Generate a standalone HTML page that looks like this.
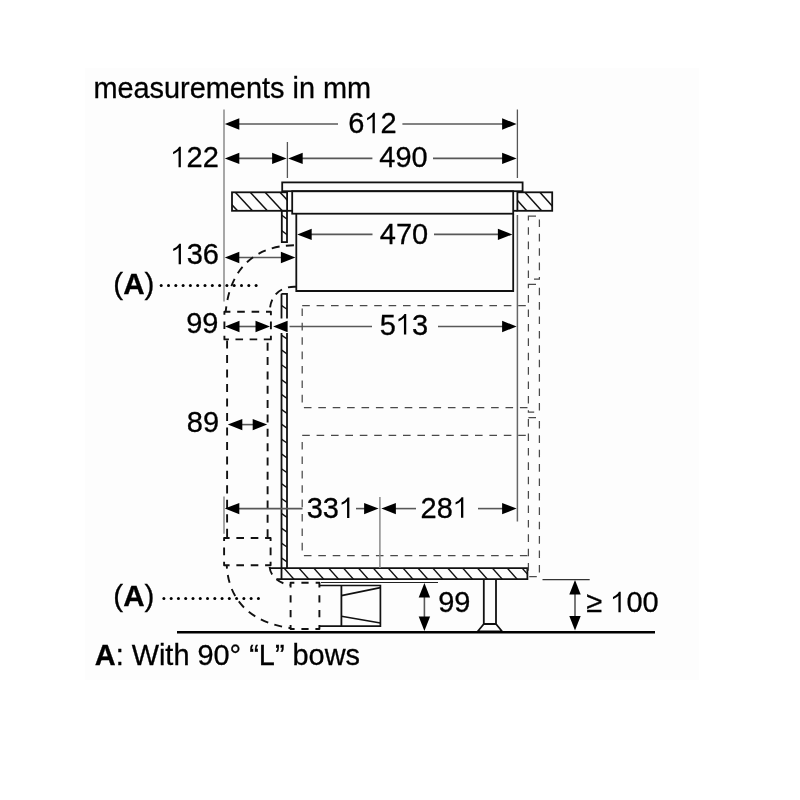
<!DOCTYPE html><html><head><meta charset="utf-8"><style>html,body{margin:0;padding:0;background:#fff;}svg{display:block;will-change:transform;} text{font-family:"Liberation Sans",sans-serif;fill:#000;stroke:#000;stroke-width:0.3px;}</style></head><body>
<svg width="800" height="800" viewBox="0 0 800 800">
<rect x="0" y="0" width="800" height="800" fill="#fff"/>
<rect x="85" y="68" width="614" height="612" fill="#fdfdfd"/>
<text x="93.40" y="97.80" font-size="28.90" text-anchor="start" font-weight="normal">measurements in mm</text>
<line x1="224.00" y1="109.50" x2="224.00" y2="301.50" stroke="#8a8a8a" stroke-width="1.50" />
<line x1="517.40" y1="109.50" x2="517.40" y2="178.00" stroke="#555" stroke-width="1.30" />
<line x1="287.40" y1="142.00" x2="287.40" y2="178.00" stroke="#555" stroke-width="1.30" />
<line x1="517.40" y1="215.00" x2="517.40" y2="521.50" stroke="#666" stroke-width="1.50" />
<line x1="238.00" y1="124.00" x2="338.00" y2="124.00" stroke="#585858" stroke-width="1.60" />
<line x1="402.40" y1="124.00" x2="503.00" y2="124.00" stroke="#585858" stroke-width="1.60" />
<polygon points="224.80,124.00 239.30,118.30 239.30,129.70" fill="#000"/>
<polygon points="516.60,124.00 502.10,118.30 502.10,129.70" fill="#000"/>
<text x="348.25" y="133.30" font-size="29.00">6 2</text>
<polygon points="372.53,133.30 374.83,133.30 374.83,112.80 373.08,112.80 371.98,114.40 369.98,116.30 367.08,117.90 367.08,120.20 369.78,118.80 371.48,117.60 372.53,116.70" fill="#000"/>
<line x1="238.00" y1="158.40" x2="273.00" y2="158.40" stroke="#585858" stroke-width="1.60" />
<polygon points="224.80,158.40 239.30,152.70 239.30,164.10" fill="#000"/>
<polygon points="286.60,158.40 272.10,152.70 272.10,164.10" fill="#000"/>
<text x="170.40" y="167.30" font-size="29.00"> 22</text>
<polygon points="178.55,167.30 180.85,167.30 180.85,146.80 179.10,146.80 178.00,148.40 176.00,150.30 173.10,151.90 173.10,154.20 175.80,152.80 177.50,151.60 178.55,150.70" fill="#000"/>
<line x1="302.00" y1="158.40" x2="372.40" y2="158.40" stroke="#585858" stroke-width="1.60" />
<line x1="433.00" y1="158.40" x2="503.00" y2="158.40" stroke="#585858" stroke-width="1.60" />
<polygon points="288.20,158.40 302.70,152.70 302.70,164.10" fill="#000"/>
<polygon points="516.60,158.40 502.10,152.70 502.10,164.10" fill="#000"/>
<text x="379.25" y="167.00" font-size="29.00">490</text>
<clipPath id="h1"><rect x="232.00" y="192.30" width="55.10" height="18.50"/></clipPath>
<g clip-path="url(#h1)" stroke="#111" stroke-width="1.50">
<line x1="188.79" y1="190.30" x2="209.63" y2="212.80"/>
<line x1="203.69" y1="190.30" x2="224.53" y2="212.80"/>
<line x1="218.59" y1="190.30" x2="239.43" y2="212.80"/>
<line x1="233.49" y1="190.30" x2="254.33" y2="212.80"/>
<line x1="248.39" y1="190.30" x2="269.23" y2="212.80"/>
<line x1="263.29" y1="190.30" x2="284.13" y2="212.80"/>
<line x1="278.19" y1="190.30" x2="299.03" y2="212.80"/>
<line x1="293.09" y1="190.30" x2="313.93" y2="212.80"/>
<line x1="307.99" y1="190.30" x2="328.83" y2="212.80"/>
</g>
<rect x="232.00" y="192.30" width="55.10" height="18.50" fill="none" stroke="#111" stroke-width="1.80" />
<clipPath id="h2"><rect x="517.40" y="192.30" width="34.80" height="18.50"/></clipPath>
<g clip-path="url(#h2)" stroke="#111" stroke-width="1.50">
<line x1="478.50" y1="190.30" x2="498.77" y2="212.80"/>
<line x1="493.40" y1="190.30" x2="513.67" y2="212.80"/>
<line x1="508.30" y1="190.30" x2="528.57" y2="212.80"/>
<line x1="523.20" y1="190.30" x2="543.47" y2="212.80"/>
<line x1="538.10" y1="190.30" x2="558.37" y2="212.80"/>
<line x1="553.00" y1="190.30" x2="573.27" y2="212.80"/>
<line x1="567.90" y1="190.30" x2="588.17" y2="212.80"/>
</g>
<rect x="517.40" y="192.30" width="34.80" height="18.50" fill="none" stroke="#111" stroke-width="1.80" />
<line x1="513.20" y1="210.80" x2="517.40" y2="210.80" stroke="#111" stroke-width="1.80" />
<rect x="282.20" y="182.40" width="240.40" height="8.80" fill="none" stroke="#111" stroke-width="1.80" />
<line x1="287.00" y1="210.80" x2="292.20" y2="210.80" stroke="#111" stroke-width="1.80" />
<rect x="292.20" y="191.20" width="221.00" height="22.50" fill="none" stroke="#111" stroke-width="1.80" />
<path d="M296.3,213.7 V291 H513.2 V213.7" fill="none" stroke="#111" stroke-width="1.80"/>
<clipPath id="h3"><rect x="281.80" y="210.80" width="5.20" height="31.30"/></clipPath>
<g clip-path="url(#h3)" stroke="#111" stroke-width="1.40">
<line x1="211.23" y1="208.80" x2="258.30" y2="244.10"/>
<line x1="231.90" y1="208.80" x2="278.97" y2="244.10"/>
<line x1="252.57" y1="208.80" x2="299.63" y2="244.10"/>
<line x1="273.23" y1="208.80" x2="320.30" y2="244.10"/>
<line x1="293.90" y1="208.80" x2="340.97" y2="244.10"/>
<line x1="314.57" y1="208.80" x2="361.63" y2="244.10"/>
</g>
<rect x="281.80" y="210.80" width="5.20" height="31.30" fill="none" stroke="#111" stroke-width="1.80" />
<line x1="310.00" y1="234.40" x2="372.50" y2="234.40" stroke="#585858" stroke-width="1.60" />
<line x1="434.00" y1="234.40" x2="498.00" y2="234.40" stroke="#585858" stroke-width="1.60" />
<polygon points="297.20,234.40 311.70,228.70 311.70,240.10" fill="#000"/>
<polygon points="512.40,234.40 497.90,228.70 497.90,240.10" fill="#000"/>
<text x="379.75" y="243.70" font-size="29.00">470</text>
<line x1="238.00" y1="257.50" x2="282.00" y2="257.50" stroke="#585858" stroke-width="1.60" />
<polygon points="224.80,257.50 239.30,251.80 239.30,263.20" fill="#000"/>
<polygon points="295.40,257.50 280.90,251.80 280.90,263.20" fill="#000"/>
<text x="170.50" y="264.20" font-size="29.00"> 36</text>
<polygon points="178.65,264.20 180.95,264.20 180.95,243.70 179.20,243.70 178.10,245.30 176.10,247.20 173.20,248.80 173.20,251.10 175.90,249.70 177.60,248.50 178.65,247.60" fill="#000"/>
<text x="113.3" y="293.6" font-size="29.6">(<tspan font-weight="bold">A</tspan>)</text>
<circle cx="161.20" cy="285.50" r="1.50" fill="#000"/>
<circle cx="168.50" cy="285.50" r="1.50" fill="#000"/>
<circle cx="175.80" cy="285.50" r="1.50" fill="#000"/>
<circle cx="183.10" cy="285.50" r="1.50" fill="#000"/>
<circle cx="190.40" cy="285.50" r="1.50" fill="#000"/>
<circle cx="197.70" cy="285.50" r="1.50" fill="#000"/>
<circle cx="205.00" cy="285.50" r="1.50" fill="#000"/>
<circle cx="212.30" cy="285.50" r="1.50" fill="#000"/>
<circle cx="219.60" cy="285.50" r="1.50" fill="#000"/>
<circle cx="226.90" cy="285.50" r="1.50" fill="#000"/>
<circle cx="234.20" cy="285.50" r="1.50" fill="#000"/>
<circle cx="241.50" cy="285.50" r="1.50" fill="#000"/>
<circle cx="248.80" cy="285.50" r="1.50" fill="#000"/>
<circle cx="256.10" cy="285.50" r="1.50" fill="#000"/>
<path d="M296,245.3 C255.9,244.8 229.9,268 225.8,311" stroke="#111" stroke-width="1.9" stroke-dashoffset="-2" stroke-dasharray="8,6.4" fill="none"/>
<path d="M296,286.8 C280,286 270,296 269.8,311.5" stroke="#111" stroke-width="1.9" stroke-dasharray="8,6.4" fill="none"/>
<path d="M224.40,314.75 V311.75 H230.40 M266.00,311.75 H270.90 V315.15 M270.90,335.65 V339.40 H263.80 M228.90,339.40 H224.40 V335.65 M237.20,311.75 H244.80 M251.60,311.75 H259.20 M270.90,321.60 V329.20 M235.47,339.40 H243.07 M249.63,339.40 H257.23 M224.40,321.40 V329.00" stroke="#111" stroke-width="1.90" fill="none" stroke-linejoin="round"/>
<path d="M227.10,340.50 L227.10,348.60 M227.10,354.98 L227.10,363.08 M227.10,369.47 L227.10,377.57 M227.10,383.95 L227.10,392.05 M227.10,398.44 L227.10,406.54 M227.10,412.92 L227.10,421.02 M227.10,427.41 L227.10,435.51 M227.10,441.89 L227.10,449.99 M227.10,456.38 L227.10,464.48 M227.10,470.86 L227.10,478.96 M227.10,485.35 L227.10,493.45 M227.10,499.83 L227.10,507.93 M227.10,514.32 L227.10,522.42 M227.10,528.80 L227.10,536.90" stroke="#111" stroke-width="1.90" fill="none"/>
<path d="M267.60,342.75 L267.60,350.75 M267.60,357.09 L267.60,365.09 M267.60,371.43 L267.60,379.43 M267.60,385.78 L267.60,393.78 M267.60,400.12 L267.60,408.12 M267.60,414.46 L267.60,422.46 M267.60,428.80 L267.60,436.80 M267.60,443.15 L267.60,451.15 M267.60,457.49 L267.60,465.49 M267.60,471.83 L267.60,479.83 M267.60,486.17 L267.60,494.17 M267.60,500.52 L267.60,508.52 M267.60,514.86 L267.60,522.86 M267.60,529.20 L267.60,537.20" stroke="#111" stroke-width="1.90" fill="none"/>
<path d="M224.10,541.05 V538.05 H229.60 M265.10,538.05 H270.60 V541.05 M270.60,561.80 V565.30 H265.10 M229.60,565.30 H224.10 V561.80 M236.37,538.05 H243.97 M250.73,538.05 H258.33 M270.60,547.62 V555.23 M236.37,565.30 H243.97 M250.73,565.30 H258.33 M224.10,547.62 V555.23" stroke="#111" stroke-width="1.90" fill="none" stroke-linejoin="round"/>
<path d="M226.8,566 C229.45,612.4 267.1,625.4 291,628" stroke="#111" stroke-width="1.9" stroke-dashoffset="-9" stroke-dasharray="8,6.4" fill="none"/>
<path d="M269.6,567 C270.5,577 280,584 291,585" stroke="#111" stroke-width="1.9" stroke-dasharray="8,6.4" fill="none"/>
<path d="M290.60,587.50 V582.75 H294.35 M315.65,582.75 H319.40 V587.50 M319.40,625.00 V629.00 H315.40 M294.60,629.00 H290.60 V625.00 M301.40,582.75 H308.60 M319.40,595.20 V602.40 M319.40,610.10 V617.30 M301.40,629.00 H308.60 M290.60,595.20 V602.40 M290.60,610.10 V617.30" stroke="#111" stroke-width="1.90" fill="none" stroke-linejoin="round"/>
<line x1="239.00" y1="326.50" x2="256.00" y2="326.50" stroke="#585858" stroke-width="1.60" />
<polygon points="225.00,326.50 239.50,320.80 239.50,332.20" fill="#000"/>
<polygon points="270.00,326.50 255.50,320.80 255.50,332.20" fill="#000"/>
<text x="186.20" y="332.90" font-size="29.00">99</text>
<clipPath id="h4"><rect x="281.50" y="293.80" width="5.50" height="274.30"/></clipPath>
<g clip-path="url(#h4)" stroke="#111" stroke-width="1.40">
<line x1="-141.27" y1="291.80" x2="256.30" y2="570.10"/>
<line x1="-120.04" y1="291.80" x2="277.53" y2="570.10"/>
<line x1="-98.81" y1="291.80" x2="298.76" y2="570.10"/>
<line x1="-77.59" y1="291.80" x2="319.99" y2="570.10"/>
<line x1="-56.36" y1="291.80" x2="341.21" y2="570.10"/>
<line x1="-35.13" y1="291.80" x2="362.44" y2="570.10"/>
<line x1="-13.90" y1="291.80" x2="383.67" y2="570.10"/>
<line x1="7.33" y1="291.80" x2="404.90" y2="570.10"/>
<line x1="28.56" y1="291.80" x2="426.13" y2="570.10"/>
<line x1="49.79" y1="291.80" x2="447.36" y2="570.10"/>
<line x1="71.01" y1="291.80" x2="468.59" y2="570.10"/>
<line x1="92.24" y1="291.80" x2="489.81" y2="570.10"/>
<line x1="113.47" y1="291.80" x2="511.04" y2="570.10"/>
<line x1="134.70" y1="291.80" x2="532.27" y2="570.10"/>
<line x1="155.93" y1="291.80" x2="553.50" y2="570.10"/>
<line x1="177.16" y1="291.80" x2="574.73" y2="570.10"/>
<line x1="198.39" y1="291.80" x2="595.96" y2="570.10"/>
<line x1="219.61" y1="291.80" x2="617.19" y2="570.10"/>
<line x1="240.84" y1="291.80" x2="638.41" y2="570.10"/>
<line x1="262.07" y1="291.80" x2="659.64" y2="570.10"/>
<line x1="283.30" y1="291.80" x2="680.87" y2="570.10"/>
<line x1="304.53" y1="291.80" x2="702.10" y2="570.10"/>
<line x1="325.76" y1="291.80" x2="723.33" y2="570.10"/>
</g>
<path d="M281.5,293.8 H287 V568.1 M281.5,293.8 V579.1" fill="none" stroke="#111" stroke-width="1.80"/>
<clipPath id="h5"><rect x="281.50" y="568.10" width="245.90" height="11.00"/></clipPath>
<g clip-path="url(#h5)" stroke="#111" stroke-width="1.40">
<line x1="252.49" y1="566.10" x2="265.88" y2="581.10"/>
<line x1="267.37" y1="566.10" x2="280.76" y2="581.10"/>
<line x1="282.25" y1="566.10" x2="295.64" y2="581.10"/>
<line x1="297.13" y1="566.10" x2="310.52" y2="581.10"/>
<line x1="312.01" y1="566.10" x2="325.40" y2="581.10"/>
<line x1="326.89" y1="566.10" x2="340.28" y2="581.10"/>
<line x1="341.77" y1="566.10" x2="355.16" y2="581.10"/>
<line x1="356.65" y1="566.10" x2="370.04" y2="581.10"/>
<line x1="371.53" y1="566.10" x2="384.92" y2="581.10"/>
<line x1="386.41" y1="566.10" x2="399.80" y2="581.10"/>
<line x1="401.29" y1="566.10" x2="414.68" y2="581.10"/>
<line x1="416.17" y1="566.10" x2="429.56" y2="581.10"/>
<line x1="431.05" y1="566.10" x2="444.44" y2="581.10"/>
<line x1="445.93" y1="566.10" x2="459.32" y2="581.10"/>
<line x1="460.81" y1="566.10" x2="474.20" y2="581.10"/>
<line x1="475.69" y1="566.10" x2="489.08" y2="581.10"/>
<line x1="490.57" y1="566.10" x2="503.96" y2="581.10"/>
<line x1="505.45" y1="566.10" x2="518.84" y2="581.10"/>
<line x1="520.33" y1="566.10" x2="533.72" y2="581.10"/>
<line x1="535.21" y1="566.10" x2="548.60" y2="581.10"/>
<line x1="550.09" y1="566.10" x2="563.48" y2="581.10"/>
</g>
<path d="M269,568.1 H527.4 V579.1 H276.5" fill="none" stroke="#111" stroke-width="1.80"/>
<line x1="287.00" y1="326.50" x2="372.00" y2="326.50" stroke="#585858" stroke-width="1.60" />
<line x1="438.00" y1="326.50" x2="503.00" y2="326.50" stroke="#585858" stroke-width="1.60" />
<rect x="279.5" y="318.5" width="10" height="14.5" fill="#fdfdfd"/>
<polygon points="273.10,326.50 287.60,320.80 287.60,332.20" fill="#000"/>
<polygon points="516.60,326.50 502.10,320.80 502.10,332.20" fill="#000"/>
<text x="379.65" y="334.50" font-size="29.00">5 3</text>
<polygon points="403.93,334.50 406.23,334.50 406.23,314.00 404.48,314.00 403.38,315.60 401.38,317.50 398.48,319.10 398.48,321.40 401.18,320.00 402.88,318.80 403.93,317.90" fill="#000"/>
<path d="M302.2,305.5 H527.5 M527.5,407.5 H302.2 V305.5" stroke="#4a4a4a" stroke-width="1.25" fill="none" stroke-dasharray="7.6,6.8"/>
<path d="M302.2,435.4 H527.5 M527.5,555.5 H302.2 V435.4" stroke="#4a4a4a" stroke-width="1.25" fill="none" stroke-dasharray="7.6,6.8"/>
<path d="M528.4,216.00 H539.4 V279.20 H528.4 Z" stroke="#4a4a4a" stroke-width="1.25" fill="none" stroke-dasharray="7.6,6.8"/>
<path d="M528.4,284.30 H539.4 V412.10 H528.4 Z" stroke="#4a4a4a" stroke-width="1.25" fill="none" stroke-dasharray="7.6,6.8"/>
<path d="M528.4,417.50 H539.4 V576.70 H528.4 Z" stroke="#4a4a4a" stroke-width="1.25" fill="none" stroke-dasharray="7.6,6.8"/>
<line x1="241.00" y1="424.60" x2="254.00" y2="424.60" stroke="#585858" stroke-width="1.60" />
<polygon points="227.80,424.60 242.30,418.90 242.30,430.30" fill="#000"/>
<polygon points="267.20,424.60 252.70,418.90 252.70,430.30" fill="#000"/>
<text x="186.75" y="432.40" font-size="29.00">89</text>
<line x1="224.00" y1="496.50" x2="224.00" y2="533.80" stroke="#8a8a8a" stroke-width="1.50" />
<line x1="379.90" y1="497.00" x2="379.90" y2="568.00" stroke="#8a8a8a" stroke-width="1.50" />
<line x1="239.00" y1="508.60" x2="302.50" y2="508.60" stroke="#585858" stroke-width="1.60" />
<line x1="356.00" y1="508.60" x2="366.00" y2="508.60" stroke="#585858" stroke-width="1.60" />
<polygon points="224.80,508.60 239.30,502.90 239.30,514.30" fill="#000"/>
<polygon points="378.60,508.60 364.10,502.90 364.10,514.30" fill="#000"/>
<text x="306.65" y="517.90" font-size="29.00">33 </text>
<polygon points="347.06,517.90 349.36,517.90 349.36,497.40 347.61,497.40 346.51,499.00 344.51,500.90 341.61,502.50 341.61,504.80 344.31,503.40 346.01,502.20 347.06,501.30" fill="#000"/>
<line x1="394.00" y1="508.60" x2="416.00" y2="508.60" stroke="#585858" stroke-width="1.60" />
<line x1="478.00" y1="508.60" x2="503.00" y2="508.60" stroke="#585858" stroke-width="1.60" />
<polygon points="381.40,508.60 395.90,502.90 395.90,514.30" fill="#000"/>
<polygon points="516.60,508.60 502.10,502.90 502.10,514.30" fill="#000"/>
<text x="420.60" y="517.70" font-size="29.00">28 </text>
<polygon points="461.01,517.70 463.31,517.70 463.31,497.20 461.56,497.20 460.46,498.80 458.46,500.70 455.56,502.30 455.56,504.60 458.26,503.20 459.96,502.00 461.01,501.10" fill="#000"/>
<path d="M319.4,585.5 H380.4 V626.1 H319.4" fill="none" stroke="#111" stroke-width="1.7"/>
<line x1="341.40" y1="585.60" x2="341.40" y2="626.20" stroke="#111" stroke-width="1.80" />
<line x1="341.40" y1="595.60" x2="380.40" y2="587.60" stroke="#111" stroke-width="1.60" />
<line x1="341.40" y1="616.30" x2="380.40" y2="623.00" stroke="#111" stroke-width="1.60" />
<line x1="321.00" y1="582.50" x2="438.00" y2="582.50" stroke="#222" stroke-width="1.00" />
<line x1="424.40" y1="597.00" x2="424.40" y2="617.00" stroke="#585858" stroke-width="1.60" />
<polygon points="424.40,583.00 418.70,597.50 430.10,597.50" fill="#000"/>
<polygon points="424.40,631.00 418.70,616.50 430.10,616.50" fill="#000"/>
<text x="438.15" y="612.25" font-size="29.00">99</text>
<path d="M483.8,579.4 V624 H496 V579.4" fill="none" stroke="#111" stroke-width="1.80"/>
<path d="M483.8,624 L477.6,631.5 H502.2 L496,624" fill="none" stroke="#111" stroke-width="1.80"/>
<line x1="542.50" y1="579.60" x2="589.70" y2="579.60" stroke="#333" stroke-width="1.20" />
<line x1="575.00" y1="594.00" x2="575.00" y2="616.00" stroke="#585858" stroke-width="1.60" />
<polygon points="575.00,580.00 569.30,594.50 580.70,594.50" fill="#000"/>
<polygon points="575.00,630.40 569.30,615.90 580.70,615.90" fill="#000"/>
<text x="586.30" y="612.35" font-size="29.00">≥  00</text>
<polygon points="618.42,612.35 620.72,612.35 620.72,591.85 618.97,591.85 617.87,593.45 615.87,595.35 612.97,596.95 612.97,599.25 615.67,597.85 617.37,596.65 618.42,595.75" fill="#000"/>
<line x1="177.00" y1="632.20" x2="655.00" y2="632.20" stroke="#000" stroke-width="2.40" />
<text x="113.3" y="605.9" font-size="29.6">(<tspan font-weight="bold">A</tspan>)</text>
<circle cx="163.90" cy="598.50" r="1.50" fill="#000"/>
<circle cx="171.17" cy="598.50" r="1.50" fill="#000"/>
<circle cx="178.44" cy="598.50" r="1.50" fill="#000"/>
<circle cx="185.71" cy="598.50" r="1.50" fill="#000"/>
<circle cx="192.98" cy="598.50" r="1.50" fill="#000"/>
<circle cx="200.25" cy="598.50" r="1.50" fill="#000"/>
<circle cx="207.52" cy="598.50" r="1.50" fill="#000"/>
<circle cx="214.79" cy="598.50" r="1.50" fill="#000"/>
<circle cx="222.06" cy="598.50" r="1.50" fill="#000"/>
<circle cx="229.33" cy="598.50" r="1.50" fill="#000"/>
<circle cx="236.60" cy="598.50" r="1.50" fill="#000"/>
<circle cx="243.87" cy="598.50" r="1.50" fill="#000"/>
<circle cx="251.14" cy="598.50" r="1.50" fill="#000"/>
<circle cx="258.41" cy="598.50" r="1.50" fill="#000"/>
<text x="94.75" y="664.8" font-size="28.9"><tspan font-weight="bold">A</tspan>: With 90° “L” bows</text>
</svg></body></html>
